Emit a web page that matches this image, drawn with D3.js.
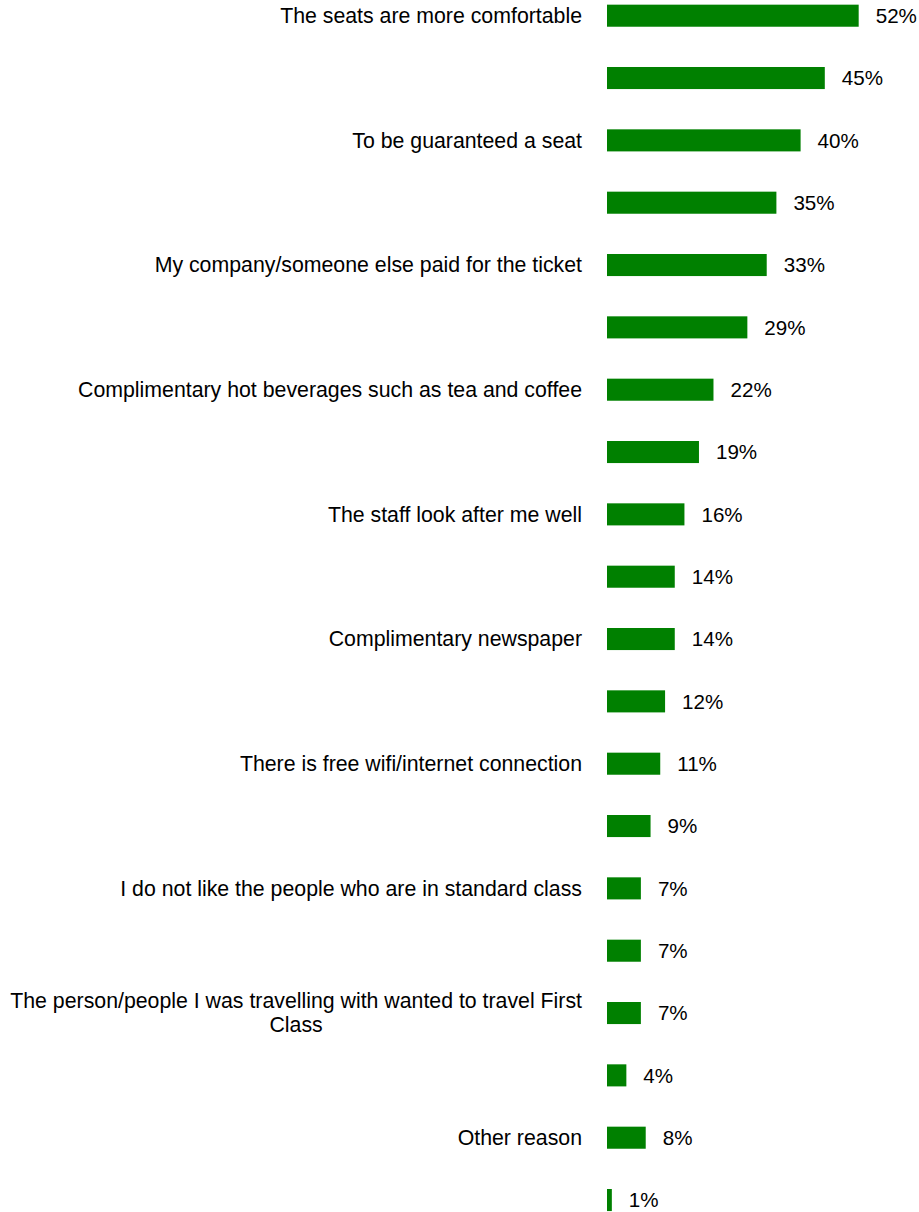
<!DOCTYPE html>
<html>
<head>
<meta charset="utf-8">
<script src="https://cdn.jsdelivr.net/npm/d3@7"></script>
<style>
  html, body { margin: 0; padding: 0; background: #fff; }
  svg { display: block; }
  text { font-family: "Liberation Sans", Arial, sans-serif; fill: #000; }
</style>
</head>
<body>
<svg id="chart" width="919" height="1212"></svg>
<script>
// Reasons for choosing First Class (share of respondents, %)
const categories = [
  "The seats are more comfortable",
  "",
  "To be guaranteed a seat",
  "",
  "My company/someone else paid for the ticket",
  "",
  "Complimentary hot beverages such as tea and coffee",
  "",
  "The staff look after me well",
  "",
  "Complimentary newspaper",
  "",
  "There is free wifi/internet connection",
  "",
  "I do not like the people who are in standard class",
  "",
  "The person/people I was travelling with wanted to travel First Class",
  "",
  "Other reason",
  ""
];
const values = [52, 45, 40, 35, 33, 29, 22, 19, 16, 14, 14, 12, 11, 9, 7, 7, 7, 4, 8, 1];

const svg = d3.select("#chart");
const labelFont = 21.3;
const valueFont = 20.6;
const barLeft = 607;
const labelRight = 582;
const maxLineWidth = 590;

const x = d3.scaleLinear().domain([0, 100]).range([barLeft, barLeft + 484]);
const y = d3.scaleBand()
  .domain(d3.range(values.length))
  .range([-15.47, 1231.2])
  .paddingInner(0.646)
  .paddingOuter(0.323);

const rows = svg.selectAll("g.row")
  .data(values.map((v, i) => ({ v, i, label: categories[i] })))
  .join("g")
  .attr("class", "row");

rows.append("rect")
  .attr("x", x(0))
  .attr("y", d => y(d.i))
  .attr("width", d => x(d.v) - x(0))
  .attr("height", y.bandwidth())
  .attr("fill", "#008000");

rows.append("text")
  .attr("x", d => x(d.v) + 17)
  .attr("y", d => y(d.i) + y.bandwidth() / 2)
  .attr("dy", "0.35em")
  .attr("font-size", valueFont)
  .text(d => d.v + "%");

// Category labels: right-aligned beside the bars, long labels wrapped
// into lines that are centred on each other.
rows.filter(d => d.label).each(function (d) {
  const g = d3.select(this);
  const words = d.label.split(" ");
  const probe = g.append("text").attr("font-size", labelFont);
  const lines = [];
  let line = [];
  words.forEach(w => {
    const test = line.concat(w).join(" ");
    probe.text(test);
    if (probe.node().getComputedTextLength() > maxLineWidth && line.length) {
      lines.push(line.join(" "));
      line = [w];
    } else {
      line.push(w);
    }
  });
  lines.push(line.join(" "));
  const widths = lines.map(l => { probe.text(l); return probe.node().getComputedTextLength(); });
  probe.remove();
  const blockW = d3.max(widths);
  const cx = labelRight - blockW / 2;
  const lineH = 24;
  const cy = y(d.i) + y.bandwidth() / 2;
  lines.forEach((l, k) => {
    g.append("text")
      .attr("x", cx)
      .attr("y", cy + (k - (lines.length - 1) / 2) * lineH)
      .attr("dy", "0.35em")
      .attr("text-anchor", "middle")
      .attr("font-size", labelFont)
      .text(l);
  });
});
</script>
</body>
</html>
